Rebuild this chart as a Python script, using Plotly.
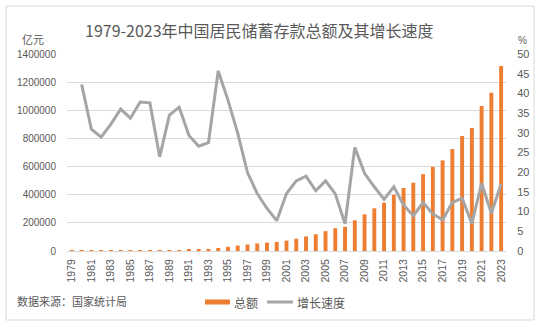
import plotly.graph_objects as go

# Years (category labels)
years = [str(y) for y in range(1979, 2024)]

# Total household savings deposits (100 million yuan)
totals = [
    281, 400, 524, 675, 893, 1215, 1623, 2239, 3081, 3822,
    5146, 7034, 9107, 11545, 14764, 21519, 29662, 38521, 46280, 53408,
    59622, 64332, 73762, 86911, 103618, 119555, 141051, 161587, 172534, 217885,
    260772, 303303, 343636, 399551, 447602, 485261, 546078, 597751, 643768, 725000,
    817000, 874000, 1030000, 1125000, 1315000,
]

# Year-on-year growth rate (%), first year has no value
growth = [
    None, 42.3, 30.9, 28.9, 32.2, 36.0, 33.7, 37.8, 37.6, 23.9,
    34.5, 36.5, 29.3, 26.6, 27.5, 45.7, 38.3, 29.9, 19.9, 14.6,
    10.8, 7.7, 14.6, 17.8, 19.0, 15.3, 17.8, 14.5, 6.9, 26.3,
    19.7, 16.3, 13.1, 16.3, 11.7, 8.9, 12.3, 9.4, 7.9, 12.3,
    13.4, 7.0, 17.2, 9.6, 17.0,
]

left_ticks = [0, 200000, 400000, 600000, 800000, 1000000, 1200000, 1400000]
right_ticks = list(range(0, 55, 5))
x_ticks = years[::2]

ORANGE = "#ED7D31"
GREY = "#A5A5A5"
TEXT = "#595959"
GRID = "#D9D9D9"
FONT = "Liberation Sans, Noto Sans CJK SC, sans-serif"
CJK = "Noto Sans CJK SC, sans-serif"

W, H = 550, 326
L, R, T, B = 67, 44, 54, 75
pw, ph = W - L - R, H - T - B


def px(x):
    return (x - L) / pw


def py(y):
    return (H - B - y) / ph


fig = go.Figure()
fig.add_trace(go.Bar(
    x=years, y=totals, name="总额", marker=dict(color=ORANGE, line=dict(width=0)),
))
fig.add_trace(go.Scatter(
    x=years, y=growth, name="增长速度", yaxis="y2", mode="lines",
    line=dict(color=GREY, width=3),
))

fig.update_layout(
    width=W, height=H,
    margin=dict(l=L, r=R, t=T, b=B),
    paper_bgcolor="white", plot_bgcolor="white",
    showlegend=False,
    bargap=0.6,
    font=dict(family=FONT, color=TEXT, size=10),
    xaxis=dict(
        type="category", tickmode="array", tickvals=x_ticks, ticktext=x_ticks,
        tickangle=-90, tickfont=dict(size=10.5, color=TEXT),
        showgrid=False, showline=True, linecolor=GRID, linewidth=1,
        ticks="outside", ticklen=3, tickcolor="rgba(0,0,0,0)",
    ),
    yaxis=dict(
        range=[0, 1400000], tickmode="array", tickvals=left_ticks,
        tickformat="d", tickfont=dict(size=10, color=TEXT),
        showgrid=True, gridcolor=GRID, gridwidth=1, zeroline=False,
        ticks="outside", ticklen=8, tickcolor="rgba(0,0,0,0)",
    ),
    yaxis2=dict(
        range=[0, 50], tickmode="array", tickvals=right_ticks,
        tickfont=dict(size=11, color=TEXT), overlaying="y", side="right",
        showgrid=False, zeroline=False,
        ticks="outside", ticklen=8, tickcolor="rgba(0,0,0,0)",
    ),
)

shapes = [
    # chart frame
    dict(type="rect", xref="paper", yref="paper", x0=px(6), x1=px(534),
         y0=py(320), y1=py(6), line=dict(color=GRID, width=1), layer="below"),
    # legend swatches
    dict(type="rect", xref="paper", yref="paper", x0=px(205), x1=px(230),
         y0=py(304.5), y1=py(299.5), fillcolor=ORANGE, line=dict(width=0)),
    dict(type="line", xref="paper", yref="paper", x0=px(267), x1=px(293),
         y0=py(302), y1=py(302), line=dict(color=GREY, width=3)),
]
fig.update_layout(shapes=shapes)

annots = [
    dict(text="1979-2023年中国居民储蓄存款总额及其增长速度", x=px(259), y=py(30),
         font=dict(family=CJK, size=16, color=TEXT), xanchor="center", yanchor="middle"),
    dict(text="亿元", x=px(33), y=py(39), font=dict(family=CJK, size=11, color=TEXT),
         xanchor="center", yanchor="middle"),
    dict(text="%", x=px(522), y=py(41), font=dict(family=FONT, size=10, color=TEXT),
         xanchor="center", yanchor="middle"),
    dict(text="数据来源：国家统计局", x=px(15), y=py(301),
         font=dict(family=CJK, size=11, color=TEXT), xanchor="left", yanchor="middle"),
    dict(text="总额", x=px(232), y=py(302), font=dict(family=CJK, size=12, color=TEXT),
         xanchor="left", yanchor="middle"),
    dict(text="增长速度", x=px(295), y=py(302), font=dict(family=CJK, size=12, color=TEXT),
         xanchor="left", yanchor="middle"),
]
for a in annots:
    a.update(xref="paper", yref="paper", showarrow=False)
fig.update_layout(annotations=annots)

fig.write_html("out.html")
